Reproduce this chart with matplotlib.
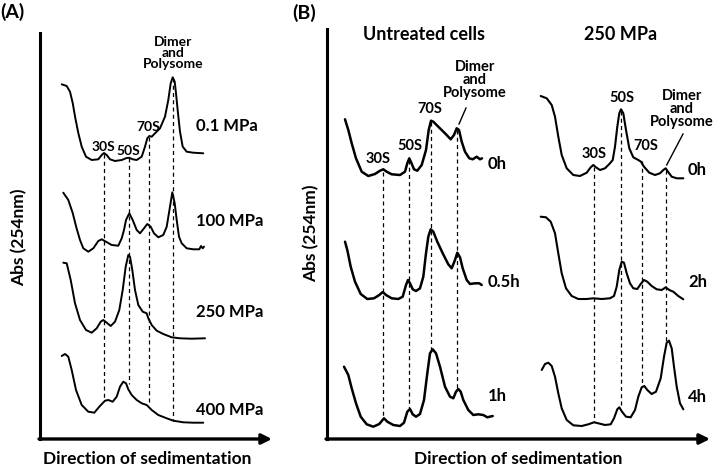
import matplotlib.pyplot as plt

plt.rcParams['font.family'] = ['Lato', 'DejaVu Sans']
plt.rcParams['font.weight'] = 'bold'

# ---- traces (x, y in image pixels) ----
# panel A: pressure series
a_01mpa = [(61.7, 84.3), (66.7, 86), (70, 91.7), (72.7, 103), (75.3, 118), (78.3, 133),
           (81.7, 146.7), (86, 156.7), (91.7, 160), (98.3, 159.3), (101.7, 155), (104, 153),
           (106.7, 155), (110, 159.3), (115, 161), (121.7, 160), (126.7, 158), (129.3, 157.8),
           (132.7, 159.3), (136.7, 160), (141.7, 156.7), (145, 146.7), (147.3, 138.3),
           (149.3, 136), (151.7, 136.7), (155, 133.3), (160, 128.3), (165, 116.7),
           (168.3, 100), (170.7, 83.3), (172.7, 77.3), (174.7, 81.7), (176, 93.3),
           (178, 113.3), (180, 131.7), (182.7, 146.7), (186.7, 151.7), (193.3, 152.7),
           (203.3, 153.3)]
a_100mpa = [(63.3, 192.7), (68.3, 200), (72.7, 213), (76.5, 228), (80, 240), (83.3, 248.3),
            (88.3, 251.7), (93.3, 248.3), (98.3, 241), (101.7, 239.3), (106, 241.7),
            (111.7, 245), (118.3, 245.7), (121.7, 238.3), (124, 230), (126, 220),
            (129.3, 213.3), (132.7, 220), (136.7, 230), (140, 233.3), (144, 228.3),
            (147.3, 224), (150.7, 226.7), (154, 233.3), (158.3, 237.3), (163.3, 235),
            (166.7, 226.7), (170, 206.7), (172.3, 192.3), (174.7, 203.3), (176.7, 220),
            (179, 236.7), (181.7, 243.3), (186.7, 248.3), (193.3, 249.3), (199.3, 249.3),
            (201, 246), (202.7, 248.3), (204, 246.7)]
a_250mpa = [(63.3, 262.7), (66.7, 263.3), (70.7, 280), (75, 303.3), (80, 320), (86, 330),
            (91.7, 332.7), (96.7, 328.3), (100.7, 321.7), (103.3, 320), (106.7, 322.7),
            (110.7, 326), (115, 321.7), (119.3, 310), (122.7, 290), (125.7, 266.7),
            (128.3, 255), (130, 256.7), (132.3, 270), (135, 290), (138.3, 305),
            (142.7, 311.7), (146.7, 313.3), (148.3, 318.3), (151.7, 325), (156.7, 330.7),
            (163.3, 334), (171.7, 337.3), (180, 338.3), (191.7, 338.7), (205, 338.3)]
a_400mpa = [(61.7, 356), (65, 354), (68.3, 356.7), (71.7, 370), (76, 390), (81.7, 405),
            (88.3, 411.7), (94.3, 412.7), (99.3, 406.7), (105, 400.7), (108.3, 400),
            (112.7, 401.7), (116.7, 396.7), (120, 386.7), (123.3, 381.7), (126, 383.3),
            (128.3, 389.3), (131.7, 395), (136.7, 400), (141.7, 403.3), (146.7, 405),
            (151.7, 410), (158.3, 415), (166.7, 418.3), (173.3, 420.7), (183.3, 422.3),
            (193.3, 422.7), (203.3, 422.7)]

# panel B, untreated cells
b_unt_0h = [(345, 119.3), (348.3, 130), (351.7, 143.3), (356, 158.3), (361.7, 171.7),
            (368.3, 176), (375, 174), (380, 170.7), (383.3, 169.3), (386.7, 171.7),
            (391.7, 174.3), (400, 175), (405, 171.7), (407.3, 163.3), (409.3, 158.3),
            (411.3, 162.7), (414, 169.3), (417.3, 170.7), (421.7, 165), (426, 150),
            (428.7, 130), (431, 120.7), (433.3, 121.7), (438.3, 126.7), (445, 133.3),
            (450.7, 139.3), (454, 135), (456.7, 128.3), (459, 130), (461.7, 141.7),
            (465, 151.7), (469.3, 158.3), (472.7, 159.3), (476.7, 156.7), (480, 159.3),
            (482, 158.3)]
b_unt_05h = [(345, 241.7), (347.3, 250), (350.7, 266.7), (355, 281.7), (360.7, 294),
             (367.3, 299), (374, 298.3), (379.3, 295), (382.7, 292), (386, 295),
             (391.7, 298.3), (398.3, 299), (402.7, 296.7), (406, 285), (408, 280),
             (410, 283.3), (412.7, 289.3), (416, 291), (420, 288.3), (423.3, 276.7),
             (426, 253.3), (428.3, 236.7), (430.7, 229.3), (433.3, 231.7), (437.3, 241.7),
             (442.7, 253.3), (448.3, 264.3), (451.7, 268.3), (455, 260), (457.3, 252.7),
             (460, 257.3), (462.7, 268.3), (466.7, 280), (470, 284), (475, 283.3),
             (479.3, 283.3), (481.7, 285)]
b_unt_1h = [(344, 366.7), (348.3, 375), (351.7, 388.3), (356, 403.3), (360.7, 416.7),
            (366.7, 424.3), (373.3, 426.7), (379.3, 424), (384, 418.3), (387.3, 421.7),
            (393.3, 425), (400, 426), (404, 422.7), (407.3, 411.7), (410, 409),
            (412.7, 414.3), (416, 416.7), (420, 414), (424, 400), (427.3, 373.3),
            (430, 353.3), (432.7, 349.3), (436, 353.3), (440, 366.7), (445, 386.7),
            (450, 396.7), (453.3, 398.3), (456, 391.7), (458.3, 389), (460.7, 391.7),
            (463.3, 400), (468.3, 410), (473.3, 415), (478.3, 414.3), (483.3, 415),
            (487.3, 417.3), (492.7, 416)]

# panel B, 250 MPa treated cells
b_250_0h = [(540.7, 96), (546.7, 98.3), (551.7, 105), (555, 116.7), (558.3, 136.7),
            (561.7, 155), (566.7, 168.3), (573.3, 175), (580, 176), (586.7, 172.7),
            (590.7, 167.3), (593.3, 165), (596, 167.3), (600, 170), (605, 168.3),
            (610, 163.3), (612.7, 160), (615, 146.7), (617.3, 126.7), (619.3, 113.3),
            (621, 109.3), (623.3, 113.3), (626, 130), (629.3, 148.3), (633.3, 157.3),
            (638.3, 160), (641, 161.7), (644, 166.7), (649.3, 172.7), (655, 175),
            (660, 173.3), (663.3, 170), (665.7, 168.3), (668, 171.7), (671.7, 176.7),
            (676.7, 178.3), (683.3, 178.3)]
b_250_2h = [(540.7, 216.7), (546, 217.3), (550.7, 221.7), (555, 233.3), (558.3, 253.3),
            (561.7, 273.3), (566, 288.3), (571.7, 296), (578.3, 299), (586.7, 299),
            (593.3, 298.3), (601.7, 299), (610, 298.3), (614, 296), (616.7, 286.7),
            (619.3, 270), (621.7, 261.7), (624, 262.7), (626.7, 273.3), (630, 283.3),
            (633.3, 288.3), (637.3, 289), (640.7, 284), (644, 280), (647.3, 281.7),
            (651.7, 286), (656.7, 289.3), (661.7, 290), (665.7, 287.3), (669.3, 290),
            (673.3, 291.7), (678.3, 296), (683.3, 299.3)]
b_250_4h = [(541.7, 370), (545, 364), (548.3, 362.7), (551.7, 366), (555, 376.7),
            (558.3, 393.3), (561.7, 408.3), (566.7, 420), (573.3, 425.3), (581.7, 426),
            (588.3, 424.3), (594, 422.3), (598.3, 423.3), (605, 425), (610.7, 424.3),
            (614, 418.3), (617.3, 409.3), (619.3, 407.3), (622, 411.7), (626, 416.7),
            (630.7, 417.3), (635, 410), (638.3, 396.7), (641.7, 387.3), (644.3, 386),
            (647.3, 390), (651.7, 394), (656, 391.7), (660.7, 378.3), (664, 356.7),
            (666.7, 342.7), (669, 340.7), (671.7, 348.3), (674, 366.7), (676.7, 386.7),
            (680, 403.3), (683.3, 409.3)]

# peak markers: x of each fraction, top / bottom of the dashed guide
peak_names = ['30S', '50S', '70S', 'Dimer\nand\nPolysome']
a_peak_x = [103.5, 128.5, 148.5, 172.7]
a_peak_top = [154, 158, 137, 78]
a_peak_bot = [401, 384, 404, 421]
a_label_xy = [(103, 147), (128.5, 151), (148, 127), (173, 53)]
a_traces = [a_01mpa, a_100mpa, a_250mpa, a_400mpa]
a_names = ['0.1 MPa', '100 MPa', '250 MPa', '400 MPa']
a_name_y = [126, 221, 312, 410]

bl_peak_x = [382.7, 409.2, 431.3, 457.3]
bl_peak_top = [172, 160, 122, 130]
bl_peak_bot = [419, 410, 350, 390]
bl_label_xy = [(378.5, 159), (409.5, 146.5), (430, 109), (475, 80)]
bl_traces = [b_unt_0h, b_unt_05h, b_unt_1h]
bl_names = ['0h', '0.5h', '1h']
bl_name_y = [164, 282, 396]

br_peak_x = [593.5, 621, 641.7, 666]
br_peak_top = [167, 111, 161, 170]
br_peak_bot = [422, 408, 387, 342]
br_label_xy = [(594, 154), (621.7, 97.5), (646, 146), (682, 109)]
br_traces = [b_250_0h, b_250_2h, b_250_4h]
br_names = ['0h', '2h', '4h']
br_name_y = [170, 282, 397]

fig = plt.figure(figsize=(7.14, 4.66), dpi=100)
ax = fig.add_axes([0, 0, 1, 1])
ax.set_xlim(0, 714)
ax.set_ylim(466, 0)
ax.axis('off')


def draw_group(traces, lw, peak_x, top, bot, labels_xy, fs):
    for x, t, b in zip(peak_x, top, bot):
        ax.plot([x, x], [t, b], color='k', lw=0.9, ls=(0, (3.2, 2.6)), zorder=1)
    for tr in traces:
        ax.plot([p[0] for p in tr], [p[1] for p in tr], color='k', lw=lw,
                solid_joinstyle='round', solid_capstyle='round', zorder=2)
    for name, (lx, ly) in zip(peak_names, labels_xy):
        ax.text(lx, ly, name, ha='center', va='center', fontsize=fs,
                linespacing=0.95, zorder=3)


draw_group(a_traces, 1.4, a_peak_x, a_peak_top, a_peak_bot, a_label_xy, 10)
draw_group(bl_traces, 1.8, bl_peak_x, bl_peak_top, bl_peak_bot, bl_label_xy, 10.5)
draw_group(br_traces, 1.5, br_peak_x, br_peak_top, br_peak_bot, br_label_xy, 10.5)

# leader lines to the dimer peak in panel B
ax.plot([459, 466], [124, 108], color='k', lw=1)
ax.plot([666.7, 683], [165, 134], color='k', lw=1)

for name, y in zip(a_names, a_name_y):
    ax.text(196, y, name, ha='left', va='center', fontsize=12)
for name, y in zip(bl_names, bl_name_y):
    ax.text(488, y, name, ha='left', va='center', fontsize=12)
for name, y in zip(br_names, br_name_y):
    ax.text(688, y, name, ha='left', va='center', fontsize=12)

# axes frames with arrows
for x0, x1, ytop in [(40, 272, 33), (327, 710, 29)]:
    ax.plot([x0, x0], [ytop, 439], color='k', lw=2.2, solid_capstyle='projecting')
    ax.annotate('', xy=(x1, 439), xytext=(x0 - 1, 439),
                arrowprops=dict(arrowstyle='-|>', lw=2.4, color='k',
                                mutation_scale=15, shrinkA=0, shrinkB=0))

ax.text(19, 237, 'Abs (254nm)', rotation=90, ha='center', va='center', fontsize=12.5)
ax.text(311, 233, 'Abs (254nm)', rotation=90, ha='center', va='center', fontsize=12.5)
ax.text(147, 459, 'Direction of sedimentation', ha='center', va='center', fontsize=12.5)
ax.text(518, 459, 'Direction of sedimentation', ha='center', va='center', fontsize=12.5)
ax.text(0, 12, '(A)', ha='left', va='center', fontsize=14)
ax.text(292, 13, '(B)', ha='left', va='center', fontsize=14)
ax.text(424, 34, 'Untreated cells', ha='center', va='center', fontsize=13)
ax.text(621, 34, '250 MPa', ha='center', va='center', fontsize=13)

fig.savefig('out.png', dpi=100)
